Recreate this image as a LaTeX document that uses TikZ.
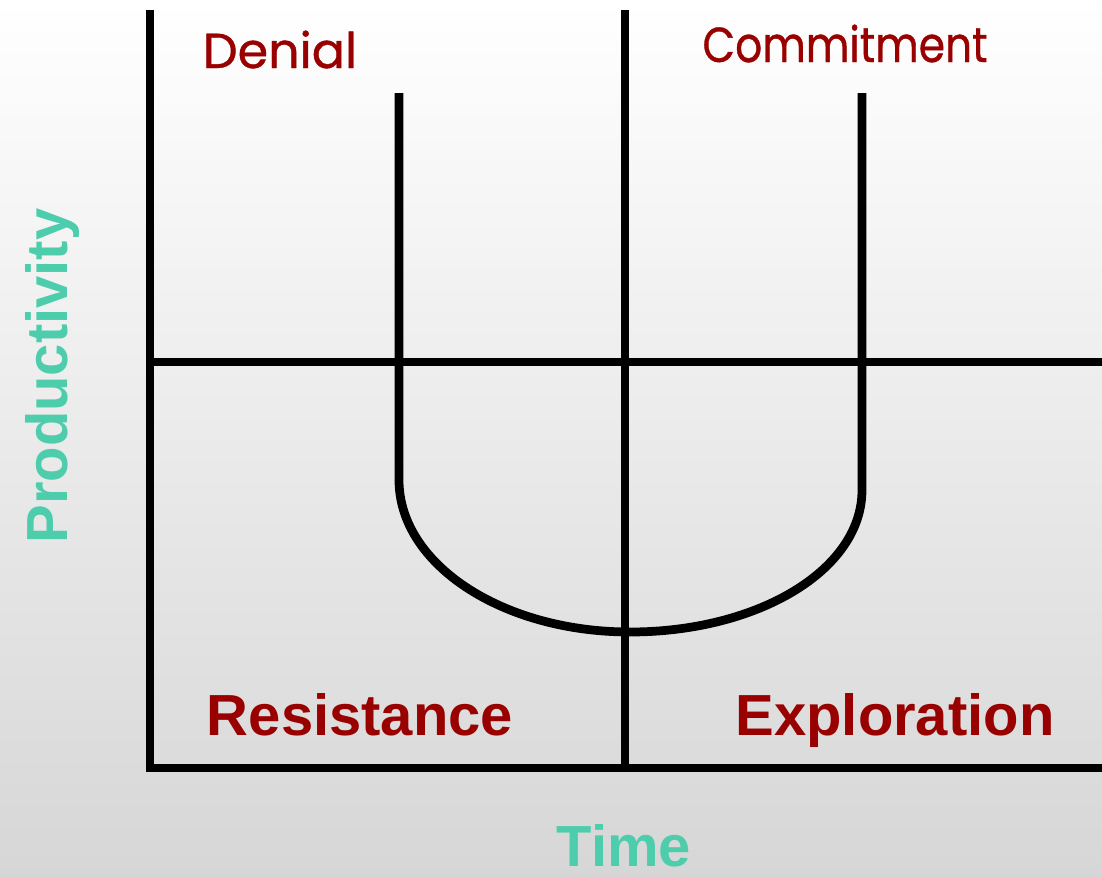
\documentclass[tikz,border=0pt]{standalone}
\usepackage{fontspec}
\setmainfont{Liberation Sans}
\newfontfamily\gothic[FakeBold=0.8]{Poppins}
\definecolor{stagered}{HTML}{990000}
\definecolor{axisteal}{HTML}{4ECDAD}

\begin{document}
\begin{tikzpicture}[x=0.02cm,y=-0.02cm,
 bar/.style={line width=0.175cm,black},
 phase/.style={text=stagered,font=\gothic\fontsize{28}{30}\selectfont,anchor=base},
 stage/.style={text=stagered,font=\bfseries\fontsize{33}{36}\selectfont,anchor=base},
 axislabel/.style={text=axisteal,font=\bfseries\fontsize{33}{36}\selectfont,anchor=base}]
\shade[top color=white,bottom color=black!16] (0,0) rectangle (1102,876);
\useasboundingbox (0,0) rectangle (1102,876);
% frame of the chart
\draw[bar] (150,10)--(150,772);
\draw[bar] (146,768)--(1102,768);
\draw[bar] (625,10)--(625,768);
\draw[bar] (154,362)--(1102,362);
% the change curve
\draw[bar] (399,93)--(399,480)
 .. controls (399,564) and (502,632) .. (630,632)
 .. controls (758,632) and (862,570) .. (862,490)--(862,93);
\node[phase] (denial) at (280,68) {Denial};
\node[phase,xscale=0.86] (commit) at (845,62) {Commitment};
\node[stage] (resist) at (360,735) {Resistance};
\node[stage] (explore) at (895,735) {Exploration};
\node[axislabel,rotate=90] (prod) at (67,376) {Productivity};
\node[axislabel] (time) at (624,866) {Time};
\end{tikzpicture}
\end{document}
